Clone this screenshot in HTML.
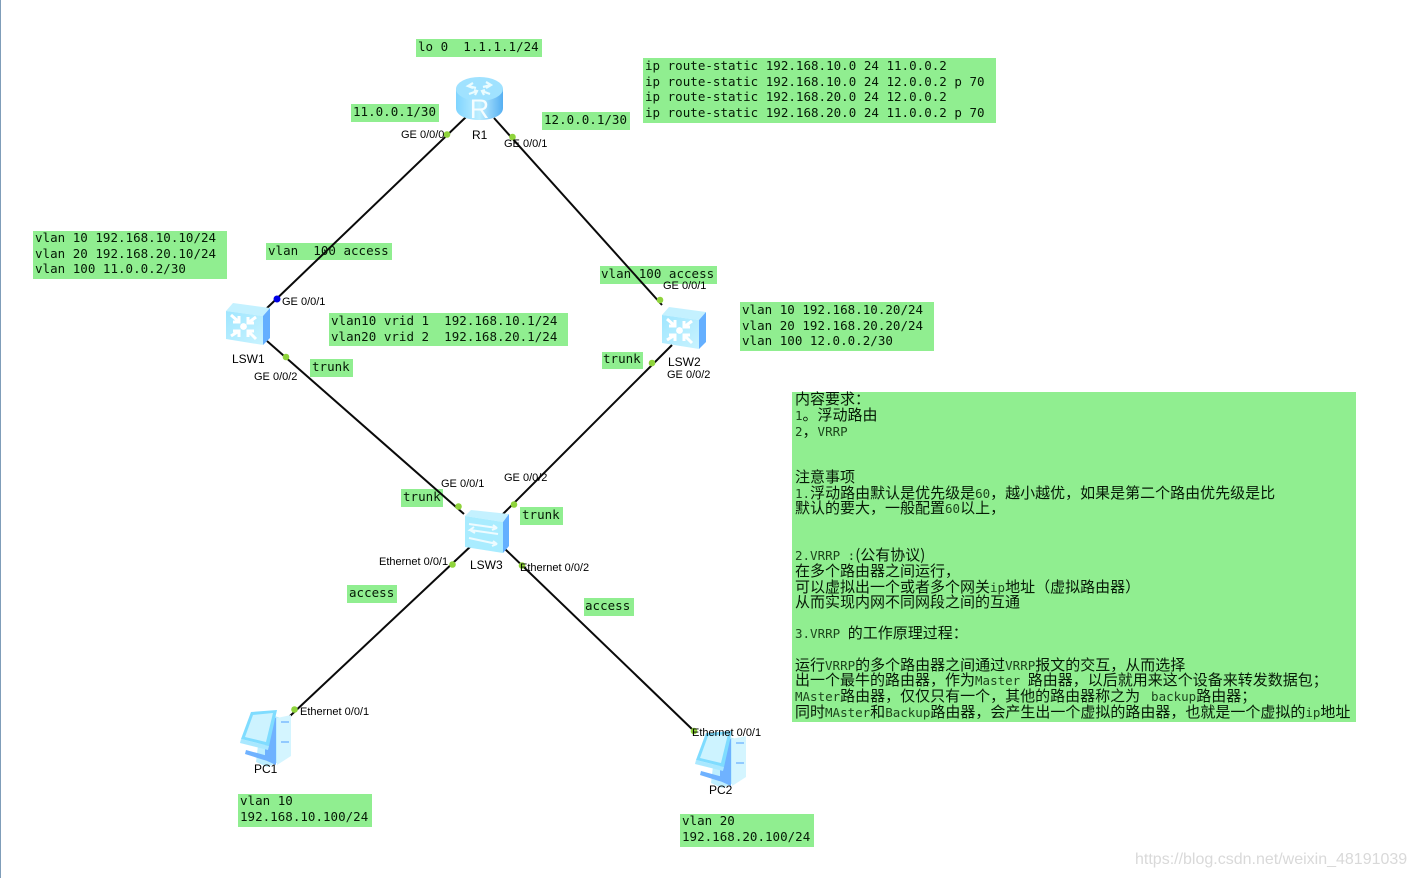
<!DOCTYPE html>
<html><head><meta charset="utf-8"><style>
html,body{margin:0;padding:0;background:#fff}
#p{position:relative;width:1416px;height:878px;overflow:hidden;background:#fff;border-left:1px solid #7f9db9;box-sizing:border-box}
.g{position:absolute;background:#90ee90;margin-left:-1px}
.t{position:absolute;margin-left:-1px;margin-top:-1px;white-space:pre;font:12.5px/15px "DejaVu Sans Mono","Liberation Mono",monospace;letter-spacing:.02px;color:#061a06}
.c{position:absolute;margin-left:-1px;white-space:pre;font:15px/16px "WenQuanYi Zen Hei","Noto Sans CJK SC",sans-serif;color:#061a06}
.c i{font:12.5px/16px "DejaVu Sans Mono","Liberation Mono",monospace;color:#1c451c}
.l{position:absolute;margin-left:-1px;margin-top:1px;white-space:pre;font:11px/13px "Liberation Sans",sans-serif;letter-spacing:0;color:#000}
.n{position:absolute;margin-left:-1px;white-space:pre;font:12px/14px "Liberation Sans",sans-serif;color:#000}
svg{position:absolute;left:-1px;top:0}
</style></head><body><div id="p">
<div class="g" style="left:416px;top:39px;width:126px;height:18px"></div>
<div class="g" style="left:643px;top:58px;width:353px;height:65px"></div>
<div class="g" style="left:351px;top:104px;width:88px;height:18px"></div>
<div class="g" style="left:542px;top:112px;width:88px;height:18px"></div>
<div class="g" style="left:33px;top:231px;width:194px;height:48px"></div>
<div class="g" style="left:266px;top:243px;width:126px;height:17px"></div>
<div class="g" style="left:600px;top:266px;width:117px;height:18px"></div>
<div class="g" style="left:329px;top:313px;width:239px;height:33px"></div>
<div class="g" style="left:740px;top:302px;width:194px;height:49px"></div>
<div class="g" style="left:602px;top:352px;width:41px;height:17px"></div>
<div class="g" style="left:310px;top:359px;width:43px;height:18px"></div>
<div class="g" style="left:401px;top:489px;width:42px;height:18px"></div>
<div class="g" style="left:520px;top:507px;width:43px;height:18px"></div>
<div class="g" style="left:347px;top:585px;width:50px;height:18px"></div>
<div class="g" style="left:584px;top:598px;width:50px;height:18px"></div>
<div class="g" style="left:238px;top:794px;width:134px;height:33px"></div>
<div class="g" style="left:680px;top:814px;width:134px;height:33px"></div>
<div class="g" style="left:792px;top:392px;width:564px;height:330px"></div>

<svg width="1416" height="878" viewBox="0 0 1416 878">
<defs>
<linearGradient id="a" x1="0" y1="0" x2="1" y2="0"><stop offset="0" stop-color="#7fd4ff"/><stop offset=".5" stop-color="#bdeeff"/><stop offset="1" stop-color="#55aff2"/></linearGradient>
<linearGradient id="b" x1="0" y1="0" x2="1" y2="1"><stop offset="0" stop-color="#9fe6ff"/><stop offset="1" stop-color="#c9f3ff"/></linearGradient>
<g id="sw">
<path d="M0 8 L7 0 L44 5 L37 13Z" fill="#c4f1ff"/>
<path d="M0 8 L37 13 V42 L0 36Z" fill="url(#b)"/>
<path d="M37 13 L44 5 V35 L37 42Z" fill="#64afff"/>
<circle cx="17.500" cy="23.500" r="3.400" fill="#fff"/>
<g stroke="#fff" stroke-width="3" fill="none">
<path d="M5 12 L13 19 M13 13 V19 H7"/><path d="M30 14 L22 20 M22 14 V20 H28"/>
<path d="M5 33 L13 28 M7 28 H13 V34"/><path d="M30 36 L22 28 M28 28 H22 V34"/>
</g>
</g>
<g id="pc">
<path d="M22 2 L44 9 V50 L27 57 L16 52Z" fill="#bdeeff"/>
<path d="M37 8 L51 5 V46 L37 55Z" fill="#d4f5ff"/>
<path d="M25 3 L36 8 V55 L25 50Z" fill="#6fb2ff"/>
<path d="M11 2 L37 0 L29 36 L1 29Z" fill="#7fdcff"/>
<path d="M13 5 L33 3 L26 32 L5 27Z" fill="#cdf3ff"/>
<path d="M1 29 L29 36 L28 40 L0 33Z" fill="#a9e8ff"/>
<path d="M6 40 L28 46 L34 52 L24 50 L5 44Z" fill="#6fb2ff"/>
<path d="M41 12 H49 M41 32 H49" stroke="#7dbcff" stroke-width="1.500"/>
</g>
</defs>
<g stroke="#0a0a0a" stroke-width="2" fill="none">
<line x1="466" y1="117" x2="267" y2="308"/>
<line x1="494" y1="118" x2="662" y2="305"/>
<line x1="267" y1="341" x2="464" y2="514"/>
<line x1="672" y1="345" x2="503" y2="514"/>
<line x1="471" y1="546" x2="290" y2="716"/>
<line x1="505" y1="549" x2="694" y2="731"/>
</g>
<!-- R1 -->
<path d="M456 89 V108 C456 124 503 124 503 108 V89Z" fill="url(#a)"/>
<ellipse cx="479.500" cy="89" rx="23.500" ry="12" fill="#a0e2ff"/>
<g stroke="#eafcff" stroke-width="2.200" fill="none"><path d="M468 86 L476 88 M473 83 L468 86 L473 88"/><path d="M491 85 L483 87 M486 82 L491 85 L486 88"/><path d="M469 94 L477 91 M474 90 L477 91 L475 95"/><path d="M490 94 L482 91 M485 90 L482 91 L484 95"/></g>
<text x="479.500" y="118" text-anchor="middle" font-family="Liberation Sans,sans-serif" font-size="27" fill="#f5fdff">R</text>
<use href="#sw" x="226" y="303"/>
<use href="#sw" x="662" y="307"/>
<!-- LSW3 -->
<path d="M465 516 L471 510 L509 514 L503 522Z" fill="#c4f1ff"/>
<path d="M465 516 L503 522 V553 L465 547Z" fill="#a9ecff"/>
<path d="M503 522 L509 514 V546 L503 553Z" fill="#64afff"/>
<g stroke="#eefbff" stroke-width="2" fill="none"><path d="M469 524 L497 528 L493 525 M497 528 L492 530"/><path d="M498 534 L470 530 L474 527 M470 530 L475 533"/><path d="M469 538 L497 544 L493 541 M497 544 L492 546"/></g>
<use href="#pc" x="240" y="710"/>
<use href="#pc" x="695" y="731"/>
<g fill="#8fd43c">
<circle cx="447" cy="134.500" r="3.300"/><circle cx="512.500" cy="137" r="3.300"/>
<circle cx="286" cy="357" r="3.300"/><circle cx="660" cy="300" r="3.300"/><circle cx="652" cy="363" r="3.300"/>
<circle cx="458.500" cy="506.500" r="3.300"/><circle cx="514" cy="504.500" r="3.300"/>
<circle cx="452.500" cy="564.500" r="3.300"/><circle cx="522" cy="565.500" r="3.300"/>
<circle cx="294.500" cy="709.500" r="3.300"/><circle cx="694" cy="731" r="3.300"/>
</g>
<circle cx="277" cy="299" r="3.500" fill="#0000e6"/>
</svg>

<div class="t" style="left:418px;top:40px">lo 0  1.1.1.1/24</div>
<div class="t" style="left:645px;top:59px">ip route-static 192.168.10.0 24 11.0.0.2</div>
<div class="t" style="left:645px;top:75px">ip route-static 192.168.10.0 24 12.0.0.2 p 70</div>
<div class="t" style="left:645px;top:90px">ip route-static 192.168.20.0 24 12.0.0.2</div>
<div class="t" style="left:645px;top:106px">ip route-static 192.168.20.0 24 11.0.0.2 p 70</div>
<div class="t" style="left:353px;top:105px">11.0.0.1/30</div>
<div class="t" style="left:544px;top:113px">12.0.0.1/30</div>
<div class="t" style="left:35px;top:231px">vlan 10 192.168.10.10/24</div>
<div class="t" style="left:35px;top:247px">vlan 20 192.168.20.10/24</div>
<div class="t" style="left:35px;top:262px">vlan 100 11.0.0.2/30</div>
<div class="t" style="left:268px;top:244px">vlan  100 access</div>
<div class="t" style="left:601px;top:267px">vlan 100 access</div>
<div class="t" style="left:331px;top:314px">vlan10 vrid 1  192.168.10.1/24</div>
<div class="t" style="left:331px;top:330px">vlan20 vrid 2  192.168.20.1/24</div>
<div class="t" style="left:742px;top:303px">vlan 10 192.168.10.20/24</div>
<div class="t" style="left:742px;top:319px">vlan 20 192.168.20.20/24</div>
<div class="t" style="left:742px;top:334px">vlan 100 12.0.0.2/30</div>
<div class="t" style="left:603px;top:352px">trunk</div>
<div class="t" style="left:312px;top:360px">trunk</div>
<div class="t" style="left:403px;top:490px">trunk</div>
<div class="t" style="left:522px;top:508px">trunk</div>
<div class="t" style="left:349px;top:586px">access</div>
<div class="t" style="left:585px;top:599px">access</div>
<div class="t" style="left:240px;top:794px">vlan 10</div>
<div class="t" style="left:240px;top:810px">192.168.10.100/24</div>
<div class="t" style="left:682px;top:814px">vlan 20</div>
<div class="t" style="left:682px;top:830px">192.168.20.100/24</div>

<div class="c" style="left:795px;top:391px">内容要求：</div>
<div class="c" style="left:795px;top:407px"><i>1</i>。浮动路由</div>
<div class="c" style="left:795px;top:423px"><i>2</i>，<i>VRRP</i></div>
<div class="c" style="left:795px;top:469px">注意事项</div>
<div class="c" style="left:795px;top:485px"><i>1.</i>浮动路由默认是优先级是<i>60</i>，越小越优，如果是第二个路由优先级是比</div>
<div class="c" style="left:795px;top:500px">默认的要大，一般配置<i>60</i>以上，</div>
<div class="c" style="left:795px;top:547px"><i>2.VRRP :</i>(公有协议)</div>
<div class="c" style="left:795px;top:563px">在多个路由器之间运行，</div>
<div class="c" style="left:795px;top:579px">可以虚拟出一个或者多个网关<i>ip</i>地址（虚拟路由器）</div>
<div class="c" style="left:795px;top:594px">从而实现内网不同网段之间的互通</div>
<div class="c" style="left:795px;top:625px"><i>3.VRRP </i>的工作原理过程：</div>
<div class="c" style="left:795px;top:657px">运行<i>VRRP</i>的多个路由器之间通过<i>VRRP</i>报文的交互，从而选择</div>
<div class="c" style="left:795px;top:672px">出一个最牛的路由器，作为<i>Master </i>路由器，以后就用来这个设备来转发数据包；</div>
<div class="c" style="left:795px;top:688px"><i>MAster</i>路由器，仅仅只有一个，其他的路由器称之为 <i> backup</i>路由器；</div>
<div class="c" style="left:795px;top:704px">同时<i>MAster</i>和<i>Backup</i>路由器，会产生出一个虚拟的路由器，也就是一个虚拟的<i>ip</i>地址</div>

<div class="l" style="left:401px;top:128px">GE 0/0/0</div>
<div class="l" style="left:504px;top:137px">GE 0/0/1</div>
<div class="l" style="left:282px;top:295px">GE 0/0/1</div>
<div class="l" style="left:254px;top:370px">GE 0/0/2</div>
<div class="l" style="left:663px;top:279px">GE 0/0/1</div>
<div class="l" style="left:667px;top:368px">GE 0/0/2</div>
<div class="l" style="left:441px;top:477px">GE 0/0/1</div>
<div class="l" style="left:504px;top:471px">GE 0/0/2</div>
<div class="l" style="left:379px;top:555px">Ethernet 0/0/1</div>
<div class="l" style="left:520px;top:561px">Ethernet 0/0/2</div>
<div class="l" style="left:300px;top:705px">Ethernet 0/0/1</div>
<div class="l" style="left:692px;top:726px">Ethernet 0/0/1</div>
<div class="n" style="left:472px;top:128px">R1</div>
<div class="n" style="left:232px;top:352px">LSW1</div>
<div class="n" style="left:668px;top:355px">LSW2</div>
<div class="n" style="left:470px;top:558px">LSW3</div>
<div class="n" style="left:254px;top:762px">PC1</div>
<div class="n" style="left:709px;top:783px">PC2</div>
<div style="position:absolute;left:1134px;top:850px;font:16px/20px 'Liberation Sans',sans-serif;color:#d9d9d9;white-space:pre">https://blog.csdn.net/weixin_48191039</div>
</div></body></html>
